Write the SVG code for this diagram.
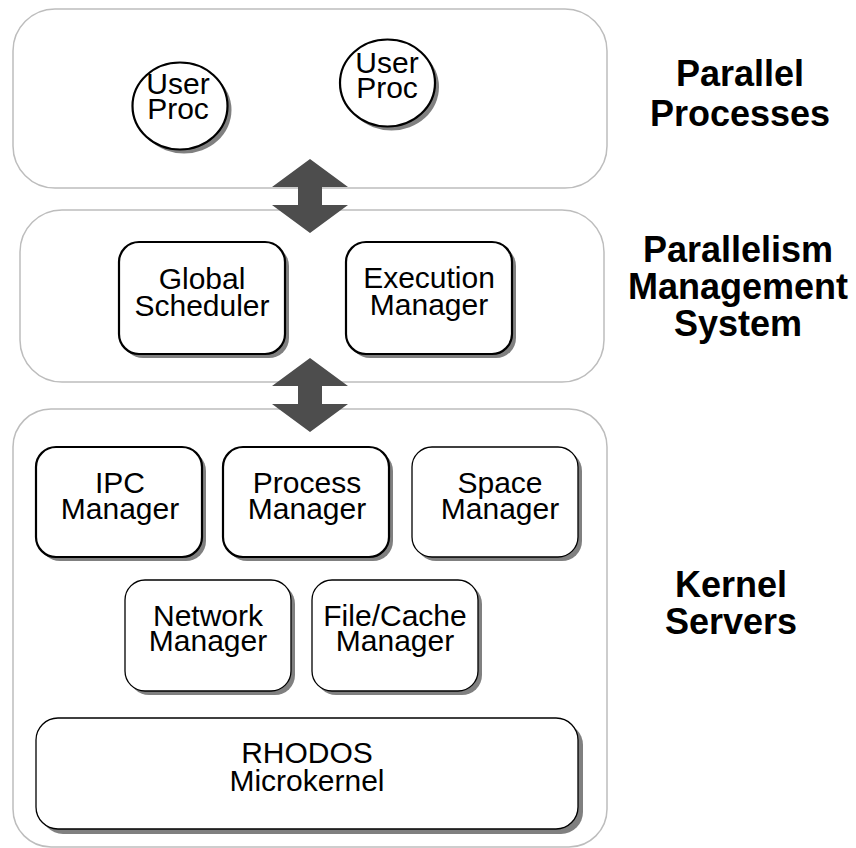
<svg xmlns="http://www.w3.org/2000/svg" width="856" height="848" viewBox="0 0 856 848">
  <style>
    .panel { fill: #ffffff; stroke: #bdbdbd; stroke-width: 1.5; }
    .shadow { fill: #808080; stroke: none; }
    .box { fill: #ffffff; stroke: #000000; stroke-width: 2.2; }
    .box-thin { fill: #ffffff; stroke: #000000; stroke-width: 1.3; }
    .lbl { font-family: "Liberation Sans", Arial, sans-serif; font-size: 30px; fill: #000000; text-anchor: middle; }
    .layer { font-family: "Liberation Sans", Arial, sans-serif; font-size: 36px; font-weight: bold; fill: #000000; text-anchor: middle; }
    .link { fill: #4d4d4d; stroke: none; }
  </style>

  <!-- layer panels -->
  <g id="panel-processes"><rect class="panel" x="13" y="9" width="594" height="179" rx="42" ry="42"/></g>
  <g id="panel-pms"><rect class="panel" x="20" y="210" width="584" height="172" rx="42" ry="42"/></g>
  <g id="panel-kernel"><rect class="panel" x="13" y="409" width="594" height="438" rx="38" ry="38"/></g>

  <!-- user processes -->
  <g id="userproc-1">
    <ellipse class="shadow" cx="184" cy="110" rx="47.5" ry="43.5"/>
    <ellipse class="box" cx="180" cy="106" rx="47.5" ry="43.5"/>
    <text class="lbl" x="178" y="94">User</text>
    <text class="lbl" x="178" y="119">Proc</text>
  </g>
  <g id="userproc-2">
    <ellipse class="shadow" cx="391.5" cy="87" rx="47.5" ry="43.5"/>
    <ellipse class="box" cx="387.5" cy="83" rx="47.5" ry="43.5"/>
    <text class="lbl" x="387" y="73">User</text>
    <text class="lbl" x="387" y="98">Proc</text>
  </g>

  <!-- parallelism management system -->
  <g id="global-scheduler">
    <rect class="shadow" x="123" y="246" width="166" height="112" rx="20" ry="20"/>
    <rect class="box" x="119" y="242" width="166" height="112" rx="20" ry="20"/>
    <text class="lbl" x="202" y="289">Global</text>
    <text class="lbl" x="202" y="316">Scheduler</text>
  </g>
  <g id="execution-manager">
    <rect class="shadow" x="350" y="246" width="166" height="112" rx="20" ry="20"/>
    <rect class="box" x="346" y="242" width="166" height="112" rx="20" ry="20"/>
    <text class="lbl" x="429" y="288">Execution</text>
    <text class="lbl" x="429" y="315">Manager</text>
  </g>

  <!-- kernel servers -->
  <g id="ipc-manager">
    <rect class="shadow" x="40" y="451" width="166" height="110" rx="20" ry="20"/>
    <rect class="box" x="36" y="447" width="166" height="110" rx="20" ry="20"/>
    <text class="lbl" x="120" y="493">IPC</text>
    <text class="lbl" x="120" y="519">Manager</text>
  </g>
  <g id="process-manager">
    <rect class="shadow" x="227" y="451" width="166" height="110" rx="20" ry="20"/>
    <rect class="box" x="223" y="447" width="166" height="110" rx="20" ry="20"/>
    <text class="lbl" x="307" y="493">Process</text>
    <text class="lbl" x="307" y="519">Manager</text>
  </g>
  <g id="space-manager">
    <rect class="shadow" x="416" y="451" width="166" height="110" rx="20" ry="20"/>
    <rect class="box-thin" x="412" y="447" width="166" height="110" rx="20" ry="20"/>
    <text class="lbl" x="500" y="493">Space</text>
    <text class="lbl" x="500" y="519">Manager</text>
  </g>
  <g id="network-manager">
    <rect class="shadow" x="129" y="584" width="166" height="111" rx="20" ry="20"/>
    <rect class="box-thin" x="125" y="580" width="166" height="111" rx="20" ry="20"/>
    <text class="lbl" x="208" y="626">Network</text>
    <text class="lbl" x="208" y="651">Manager</text>
  </g>
  <g id="filecache-manager">
    <rect class="shadow" x="316" y="584" width="166" height="111" rx="20" ry="20"/>
    <rect class="box-thin" x="312" y="580" width="166" height="111" rx="20" ry="20"/>
    <text class="lbl" x="395" y="626">File/Cache</text>
    <text class="lbl" x="395" y="651">Manager</text>
  </g>
  <g id="rhodos-microkernel">
    <rect class="shadow" x="41" y="723" width="542" height="111" rx="22" ry="22"/>
    <rect class="box-thin" x="36" y="718" width="542" height="111" rx="22" ry="22"/>
    <text class="lbl" x="307" y="763">RHODOS</text>
    <text class="lbl" x="307" y="791">Microkernel</text>
  </g>

  <!-- layer titles -->
  <g id="title-processes">
    <text class="layer" x="740" y="86">Parallel</text>
    <text class="layer" x="740" y="126">Processes</text>
  </g>
  <g id="title-pms">
    <text class="layer" x="738" y="262">Parallelism</text>
    <text class="layer" x="738" y="299">Management</text>
    <text class="layer" x="738" y="336">System</text>
  </g>
  <g id="title-kernel">
    <text class="layer" x="731" y="597">Kernel</text>
    <text class="layer" x="731" y="634">Servers</text>
  </g>

  <!-- two-way links between layers -->
  <g id="connectors">
    <polygon class="link" points="310,159 348,187 322,187 322,205 348,205 310,233 272,205 298,205 298,187 272,187"/>
    <polygon class="link" points="310,358 348,386 322,386 322,404 348,404 310,432 272,404 298,404 298,386 272,386"/>
  </g>
</svg>
